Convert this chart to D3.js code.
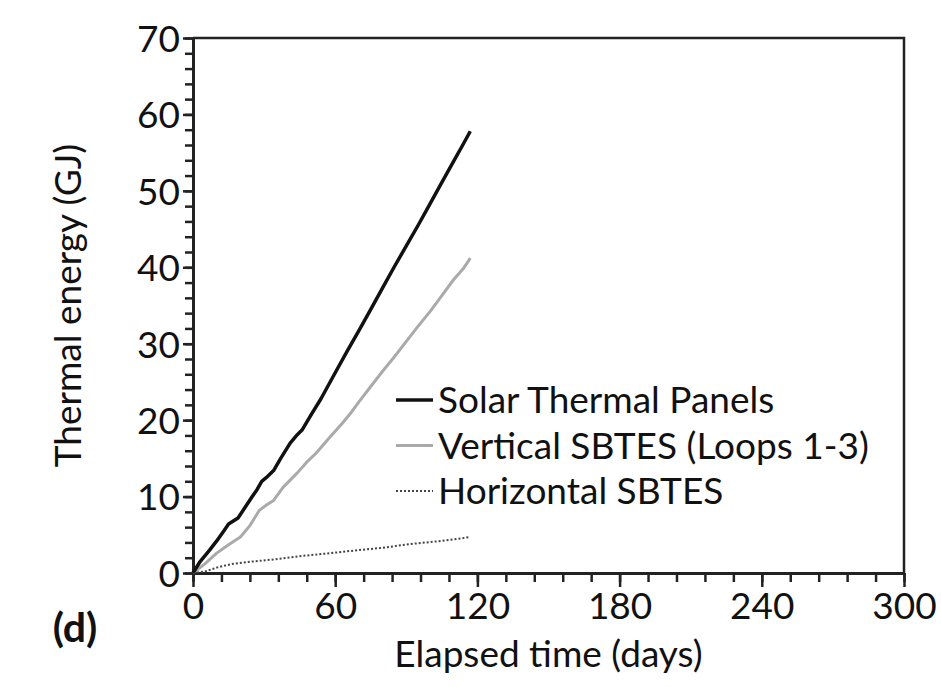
<!DOCTYPE html>
<html>
<head>
<meta charset="utf-8">
<script src="https://cdn.jsdelivr.net/npm/d3@7"></script>
<style>
  body { margin: 0; background: #fff; }
  text { font-family: Lato, "Open Sans", sans-serif; fill: #111; }
</style>
</head>
<body>
<div id="chart"></div>
<script>
// data (days, GJ)
const solarDays = [0, 3, 7, 10, 13, 15, 17, 19, 22, 25, 27, 29, 31, 34, 37, 41, 44, 46, 50, 54, 60, 65, 70, 75, 80, 85, 90, 95, 100, 105, 110, 114, 117];
const solarGJ = [0, 1.5, 3.0, 4.2, 5.5, 6.4, 6.8, 7.2, 8.6, 10.0, 10.9, 12.0, 12.5, 13.4, 15.0, 17.0, 18.1, 18.7, 20.8, 22.8, 26.2, 29.0, 31.7, 34.5, 37.3, 40.1, 42.8, 45.5, 48.3, 51.1, 53.9, 56.1, 57.8];

const verticalDays = [0, 5, 10, 15, 20, 24, 28, 31, 34, 38, 44, 48, 52, 57, 63, 67, 70, 75, 80, 85, 90, 95, 100, 105, 110, 114, 117];
const verticalGJ = [0, 1.2, 2.6, 3.7, 4.7, 6.2, 8.2, 8.9, 9.5, 11.2, 13.1, 14.5, 15.7, 17.5, 19.6, 21.1, 22.4, 24.4, 26.4, 28.3, 30.3, 32.3, 34.2, 36.3, 38.4, 39.8, 41.2];

const horizontalDays = [0, 5, 8, 11, 17, 25, 35, 45, 58, 70, 80, 92, 105, 117];
const horizontalGJ = [0, 0.2, 0.5, 0.8, 1.2, 1.5, 1.8, 2.2, 2.6, 3.0, 3.3, 3.8, 4.2, 4.7];

const xTicks = [0, 60, 120, 180, 240, 300];
const yTicks = [0, 10, 20, 30, 40, 50, 60, 70];
const seriesNames = ["Solar Thermal Panels", "Vertical SBTES (Loops 1-3)", "Horizontal SBTES"];

const W = 941, H = 687;
const margin = { top: 38, right: 37, bottom: 114, left: 193 };
const width = W - margin.left - margin.right;
const height = H - margin.top - margin.bottom;

const svg = d3.select("#chart")
    .append("svg")
    .attr("width", W)
    .attr("height", H);

const g = svg.append("g")
    .attr("transform", `translate(${margin.left},${margin.top})`);

const x = d3.scaleLinear().domain([0, 300]).range([0, width]);
const y = d3.scaleLinear().domain([0, 70]).range([height, 0]);

// frame (top + right)
g.append("path")
    .attr("d", `M0,0H${width}V${height}`)
    .attr("fill", "none")
    .attr("stroke", "#222")
    .attr("stroke-width", 2.5);

// minor ticks
g.append("g")
    .attr("transform", `translate(0,${height})`)
    .call(d3.axisBottom(x).tickValues(d3.range(0, 301, 12)).tickSize(9).tickFormat(""))
    .call(a => a.select(".domain").remove());
g.append("g")
    .call(d3.axisLeft(y).tickValues(d3.range(0, 71, 2)).tickSize(8).tickFormat(""))
    .call(a => a.select(".domain").remove());

// major axes
const xAxis = g.append("g")
    .attr("transform", `translate(0,${height})`)
    .call(d3.axisBottom(x).tickValues(xTicks).tickSize(14).tickSizeOuter(0).tickPadding(6));
const yAxis = g.append("g")
    .call(d3.axisLeft(y).tickValues(yTicks).tickSize(10).tickSizeOuter(0).tickPadding(3));

[xAxis, yAxis].forEach(a => {
    a.select(".domain").attr("stroke", "#222").attr("stroke-width", 3);
    a.selectAll("text").style("font-size", "37px").attr("fill", "#111");
});
g.selectAll(".tick line").attr("stroke", "#222").attr("stroke-width", 2.5);
yAxis.selectAll("text").attr("dy", "0.36em");

// axis titles
g.append("text")
    .attr("x", width / 2)
    .attr("y", height + 94)
    .attr("text-anchor", "middle")
    .style("font-size", "37px")
    .text("Elapsed time (days)");

g.append("text")
    .attr("transform", `translate(${-112},${height / 2}) rotate(-90)`)
    .attr("text-anchor", "middle")
    .style("font-size", "37px")
    .text("Thermal energy (GJ)");

svg.append("text")
    .attr("x", 75)
    .attr("y", 642)
    .attr("text-anchor", "middle")
    .style("font-size", "41px")
    .style("font-weight", "bold")
    .text("(d)");

// lines
const line = d3.line()
    .x(d => x(d[0]))
    .y(d => y(d[1]));

const series = [
    { days: horizontalDays, vals: horizontalGJ, color: "#444", w: 2, dash: "2,2" },
    { days: verticalDays, vals: verticalGJ, color: "#aaa", w: 3, dash: null },
    { days: solarDays, vals: solarGJ, color: "#111", w: 3.5, dash: null }
];

series.forEach(s => {
    g.append("path")
        .datum(d3.zip(s.days, s.vals))
        .attr("fill", "none")
        .attr("stroke", s.color)
        .attr("stroke-width", s.w)
        .attr("stroke-dasharray", s.dash)
        .attr("stroke-linejoin", "round")
        .attr("d", line);
});

// legend
const legendStyles = [series[2], series[1], series[0]];
const legend = svg.append("g").attr("transform", "translate(396,400)");
seriesNames.forEach((name, i) => {
    const row = legend.append("g").attr("transform", `translate(0,${i * 45.5})`);
    row.append("line")
        .attr("x1", 0).attr("x2", 37)
        .attr("stroke", legendStyles[i].color)
        .attr("stroke-width", legendStyles[i].w)
        .attr("stroke-dasharray", legendStyles[i].dash);
    row.append("text")
        .attr("x", 42)
        .attr("dy", "0.36em")
        .style("font-size", "37px")
        .text(name);
});
</script>
</body>
</html>
